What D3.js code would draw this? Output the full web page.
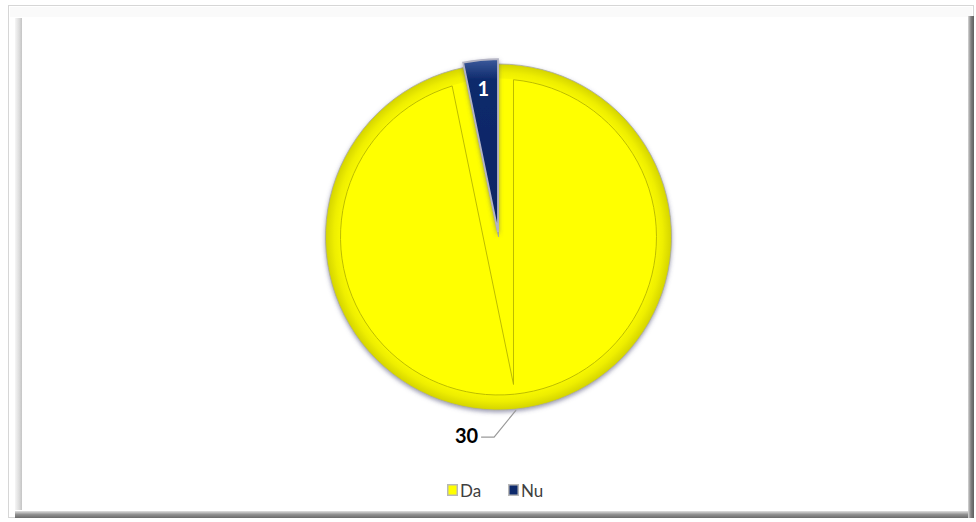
<!DOCTYPE html>
<html><head><meta charset="utf-8">
<script src="https://cdn.jsdelivr.net/npm/d3@7"></script>
<style>html,body{margin:0;padding:0;background:#fff;}svg{display:block;}</style>
</head><body>
<svg id="chart" width="976" height="522"></svg>
<script>
const categories = ["Da", "Nu"];
const values = [30, 1];
const colors = ["#ffff00", "#0e2a6c"];
const labelText = ["30", "1"];

const W = 976, H = 522;
const svg = d3.select("#chart");
const defs = svg.append("defs");

// frame gradients
const gL = defs.append("linearGradient").attr("id","gl").attr("x1",0).attr("x2",1).attr("y1",0).attr("y2",0);
gL.append("stop").attr("offset",0).attr("stop-color","#f6f6f6");
gL.append("stop").attr("offset",0.6).attr("stop-color","#dcdcdc");
gL.append("stop").attr("offset",1).attr("stop-color","#c4c4c4");
const gB = defs.append("linearGradient").attr("id","gb").attr("x1",0).attr("x2",0).attr("y1",0).attr("y2",1);
gB.append("stop").attr("offset",0).attr("stop-color","#e0e0e0");
gB.append("stop").attr("offset",0.5).attr("stop-color","#909090");
gB.append("stop").attr("offset",1).attr("stop-color","#6a6a6a");
const gR = defs.append("linearGradient").attr("id","gr").attr("x1",0).attr("x2",1).attr("y1",0).attr("y2",0);
gR.append("stop").attr("offset",0).attr("stop-color","#d8d8d8");
gR.append("stop").attr("offset",0.5).attr("stop-color","#808080");
gR.append("stop").attr("offset",1).attr("stop-color","#5e5e5e");

// frame
svg.append("rect").attr("x",8.5).attr("y",5.5).attr("width",965).attr("height",512)
  .attr("fill","#fff").attr("stroke","#d6d6d6");
svg.append("rect").attr("x",10).attr("y",7).attr("width",962).attr("height",10).attr("fill","#fafafa");
svg.append("rect").attr("x",15).attr("y",18).attr("width",7).attr("height",492).attr("fill","url(#gl)");
svg.append("rect").attr("x",15).attr("y",511).attr("width",959).attr("height",7).attr("fill","url(#gb)");
svg.append("rect").attr("x",968).attr("y",16).attr("width",6).attr("height",502).attr("fill","url(#gr)");
svg.append("rect").attr("x",22).attr("y",18).attr("width",946).attr("height",493).attr("fill","#fff");

// pie geometry
const cx = 498.5, cy = 237, R = 173, bevel = 15, explode = 5;

const rg = defs.append("radialGradient").attr("id","rg").attr("gradientUnits","userSpaceOnUse")
  .attr("cx",0).attr("cy",0).attr("r",R);
rg.append("stop").attr("offset",0).attr("stop-color","#ffff00");
rg.append("stop").attr("offset",(R-bevel)/R).attr("stop-color","#ffff00");
rg.append("stop").attr("offset",(R-bevel)/R+0.005).attr("stop-color","#f6f600");
rg.append("stop").attr("offset",0.95).attr("stop-color","#eeee00");
rg.append("stop").attr("offset",1).attr("stop-color","#d4d400");

const ng = defs.append("linearGradient").attr("id","ng").attr("x1",0).attr("x2",0).attr("y1",0).attr("y2",1);
ng.append("stop").attr("offset",0).attr("stop-color","#3c5a9c");
ng.append("stop").attr("offset",0.12).attr("stop-color","#0e2a6c");
ng.append("stop").attr("offset",1).attr("stop-color","#0b2464");

const sh = defs.append("filter").attr("id","sh").attr("x","-20%").attr("y","-20%").attr("width","140%").attr("height","140%");
sh.append("feDropShadow").attr("dx",0).attr("dy",2).attr("stdDeviation",2)
  .attr("flood-color","#50507a").attr("flood-opacity",0.55);

const pie = d3.pie().sort(null).value(d => d)(values);
const arc = d3.arc().innerRadius(0).outerRadius(R);
const fills = ["url(#rg)", "url(#ng)"];

const g = svg.append("g").attr("transform",`translate(${cx},${cy})`);

pie.forEach((p, i) => {
  const mid = (p.startAngle + p.endAngle) / 2;
  const dx = i === 1 ? explode * Math.sin(mid) : 0;
  const dy = i === 1 ? -explode * Math.cos(mid) : 0;
  const sg = g.append("g").attr("transform",`translate(${dx},${dy})`).attr("filter","url(#sh)");
  sg.append("path").attr("d", arc(p)).attr("fill", fills[i])
    .attr("stroke", i === 1 ? "#b4b4c4" : "#a8a8a0").attr("stroke-width", i === 1 ? 1.8 : 0.8);
});

// bevel inner outline for big slice
(function(){
  const p = pie[0];
  const a0 = p.startAngle, a1 = p.endAngle;
  const u0 = [Math.sin(a0), -Math.cos(a0)], n0 = [Math.cos(a0), Math.sin(a0)];
  const u1 = [Math.sin(a1), -Math.cos(a1)], n1 = [-Math.cos(a1), -Math.sin(a1)];
  const b = bevel;
  const rx = b*(n1[0]-n0[0]), ry = b*(n1[1]-n0[1]);
  const det = u0[0]*(-u1[1]) - u0[1]*(-u1[0]);
  const s = (rx*(-u1[1]) - ry*(-u1[0])) / det;
  const P = [b*n0[0] + s*u0[0], b*n0[1] + s*u0[1]];
  const ri = R - b;
  const sEnd = Math.sqrt(ri*ri - b*b);
  const q0 = [b*n0[0] + sEnd*u0[0], b*n0[1] + sEnd*u0[1]];
  const q1 = [b*n1[0] + sEnd*u1[0], b*n1[1] + sEnd*u1[1]];
  const d = `M${P[0]},${P[1]}L${q0[0]},${q0[1]}A${ri},${ri} 0 1 1 ${q1[0]},${q1[1]}Z`;
  g.append("path").attr("d", d).attr("fill","none").attr("stroke","#b4b400").attr("stroke-width",0.9);
})();

// labels
(function(){
  const p = pie[1];
  const mid = (p.startAngle + p.endAngle) / 2;
  const rr = 145 + explode;
  g.append("text").attr("x", rr*Math.sin(mid)).attr("y", -rr*Math.cos(mid))
    .attr("text-anchor","middle").attr("dominant-baseline","central")
    .attr("font-family","Lato, 'Open Sans', sans-serif").attr("font-weight","bold").attr("font-size",20)
    .attr("fill","#ffffff").text(labelText[1]);
  const q = pie[0];
  const m = (q.startAngle + q.endAngle) / 2;
  const p0 = [(R+1)*Math.sin(m), -(R+1)*Math.cos(m)];
  const p1 = [p0[0]-22, p0[1]+27];
  const p2 = [p1[0]-13, p1[1]];
  g.append("path").attr("d", `M${p0[0]},${p0[1]}L${p1[0]},${p1[1]}L${p2[0]},${p2[1]}`)
    .attr("fill","none").attr("stroke","#9a9a9a").attr("stroke-width",1.2);
  g.append("text").attr("x", p2[0]-3).attr("y", p2[1]-2)
    .attr("text-anchor","end").attr("dominant-baseline","central")
    .attr("font-family","Lato, 'Open Sans', sans-serif").attr("font-weight","bold").attr("font-size",20)
    .attr("fill","#000").text(labelText[0]);
})();

// legend
const legend = svg.append("g").attr("transform","translate(447,490)");
let lx = 0;
const legendGaps = [61, 0];
categories.forEach((c, i) => {
  const it = legend.append("g").attr("transform",`translate(${lx},0)`);
  it.append("rect").attr("x",0).attr("y",-6).attr("width",11).attr("height",12)
    .attr("fill","#b8b8b8");
  it.append("rect").attr("x",1.5).attr("y",-4.5).attr("width",8).attr("height",9).attr("fill",colors[i]);
  it.append("text").attr("x",13).attr("y",0).attr("dominant-baseline","central")
    .attr("font-family","Lato, 'Open Sans', sans-serif").attr("font-size",17).attr("fill","#404040").text(c);
  lx += legendGaps[i];
});
</script>
</body></html>
